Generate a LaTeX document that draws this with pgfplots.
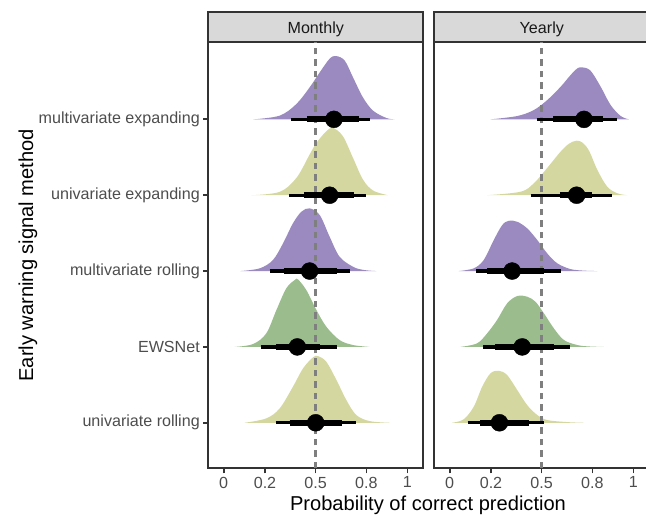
\documentclass[border=0pt]{standalone}
\usepackage{fontspec}
\setmainfont{Liberation Sans}
\usepackage{pgfplots}
\pgfplotsset{compat=1.18}
\definecolor{cpurple}{HTML}{9A8ABF}
\definecolor{cyellow}{HTML}{D4D8A0}
\definecolor{cgreen}{HTML}{9BBD8D}
\definecolor{gtwenty}{HTML}{333333}
\definecolor{gthirty}{HTML}{4D4D4D}
\definecolor{gfifty}{HTML}{7F7F7F}
\definecolor{stripfill}{HTML}{D9D9D9}
\pgfplotsset{
 panel/.style={
  scale only axis, width=215pt, height=426pt,
  xmin=-0.0835, xmax=1.0865, ymin=0.4, ymax=6.016,
  axis line style={draw=gtwenty, line width=1.8pt},
  tick align=outside, major tick length=5pt,
  tick style={draw=gtwenty, line width=1.8pt},
  xtick={0,0.225,0.5,0.777,1}, xticklabels={0,0.2,0.5,0.8,1},
  xtick pos=left, ytick pos=left,
  ticklabel style={font=\fontsize{16.1}{19}\selectfont, text=gthirty},
  /pgf/number format/assume math mode=true,
  clip=false,
 },
 dens/.style={draw=none, fill=#1, smooth, tension=0.55, forget plot},
 thin/.style={black, line width=3.4pt, forget plot},
 thick/.style={black, line width=6pt, forget plot},
 pt/.style={only marks, mark=*, mark size=8.5pt, black, forget plot},
 vref/.style={gfifty, line width=2.1pt, dash pattern=on 6.5pt off 5pt, forget plot},
}
\begin{document}
\begin{tikzpicture}
\useasboundingbox (0,0) rectangle (646pt,516pt);
% ---------------- Monthly ----------------
\begin{axis}[panel, at={(208.3pt,47.7pt)}, anchor=south west,
  ytick={1,2,3,4,5},
  yticklabels={univariate rolling, EWSNet, multivariate rolling, univariate expanding, multivariate expanding}]
\draw[gtwenty, line width=1.8pt, fill=stripfill] (rel axis cs:0,1) rectangle ([yshift=30.6pt]rel axis cs:1,1);
\node[anchor=base, font=\fontsize{16.1}{19}\selectfont, text=black!90] at ([yshift=9pt]rel axis cs:0.5,1) {Monthly};
\addplot[dens=cpurple] coordinates {(0.160,5) (0.305,5.049) (0.396,5.203) (0.468,5.422) (0.523,5.620) (0.577,5.800) (0.612,5.835) (0.659,5.774) (0.704,5.554) (0.758,5.290) (0.813,5.115) (0.886,5.018) (0.931,5)};
\addplot[dens=cyellow] coordinates {(0.151,4) (0.305,4.044) (0.396,4.228) (0.468,4.537) (0.505,4.690) (0.559,4.844) (0.595,4.887) (0.649,4.778) (0.704,4.492) (0.758,4.207) (0.813,4.062) (0.894,4)};
\addplot[dens=cpurple] coordinates {(0.091,3) (0.196,3.036) (0.268,3.145) (0.323,3.365) (0.377,3.629) (0.423,3.782) (0.468,3.827) (0.523,3.738) (0.577,3.452) (0.631,3.189) (0.704,3.057) (0.760,3.015) (0.831,3)};
\addplot[dens=cgreen] coordinates {(0.060,2) (0.160,2.038) (0.232,2.179) (0.287,2.486) (0.341,2.773) (0.387,2.882) (0.404,2.891) (0.450,2.750) (0.505,2.486) (0.559,2.266) (0.631,2.091) (0.704,2.025) (0.795,2)};
\addplot[dens=cyellow] coordinates {(0.114,1) (0.232,1.058) (0.305,1.190) (0.377,1.475) (0.432,1.717) (0.486,1.862) (0.513,1.879) (0.559,1.804) (0.614,1.563) (0.668,1.299) (0.722,1.102) (0.795,1.022) (0.904,1)};
\addplot[vref] coordinates {(0.5,0.4) (0.5,6.016)};
% intervals
\addplot[thin] coordinates {(0.365,5) (0.799,5)};
\addplot[thick] coordinates {(0.453,5) (0.737,5)};
\addplot[pt] coordinates {(0.600,5)};
\addplot[thin] coordinates {(0.355,4) (0.773,4)};
\addplot[thick] coordinates {(0.436,4) (0.708,4)};
\addplot[pt] coordinates {(0.577,4)};
\addplot[thin] coordinates {(0.250,3) (0.690,3)};
\addplot[thick] coordinates {(0.328,3) (0.617,3)};
\addplot[pt] coordinates {(0.468,3)};
\addplot[thin] coordinates {(0.201,2) (0.619,2)};
\addplot[thick] coordinates {(0.287,2) (0.523,2)};
\addplot[pt] coordinates {(0.401,2)};
\addplot[thin] coordinates {(0.283,1) (0.719,1)};
\addplot[thick] coordinates {(0.359,1) (0.646,1)};
\addplot[pt] coordinates {(0.501,1)};
\end{axis}
% ---------------- Yearly ----------------
\begin{axis}[panel, at={(434.3pt,47.7pt)}, anchor=south west, ytick=\empty]
\draw[gtwenty, line width=1.8pt, fill=stripfill] (rel axis cs:0,1) rectangle ([yshift=30.6pt]rel axis cs:1,1);
\node[anchor=base, font=\fontsize{16.1}{19}\selectfont, text=black!90] at ([yshift=9pt]rel axis cs:0.5,1) {Yearly};
\addplot[dens=cpurple] coordinates {(0.222,5) (0.368,5.044) (0.458,5.123) (0.531,5.254) (0.604,5.430) (0.658,5.584) (0.695,5.672) (0.722,5.686) (0.767,5.641) (0.822,5.430) (0.876,5.189) (0.931,5.044) (0.976,5)};
\addplot[dens=cyellow] coordinates {(0.204,4) (0.386,4.046) (0.458,4.157) (0.531,4.360) (0.604,4.575) (0.650,4.680) (0.691,4.719) (0.725,4.690) (0.760,4.580) (0.804,4.332) (0.858,4.112) (0.913,4.025) (0.967,4)};
\addplot[dens=cpurple] coordinates {(0.049,3) (0.131,3.036) (0.185,3.145) (0.240,3.409) (0.286,3.606) (0.322,3.663) (0.368,3.650) (0.422,3.563) (0.477,3.409) (0.531,3.233) (0.586,3.102) (0.658,3.026) (0.730,3.006) (0.804,3)};
\addplot[dens=cgreen] coordinates {(0.058,2) (0.149,2.047) (0.204,2.179) (0.258,2.355) (0.313,2.575) (0.368,2.671) (0.422,2.662) (0.467,2.596) (0.513,2.443) (0.567,2.245) (0.622,2.091) (0.695,2.025) (0.760,2.006) (0.840,2)};
\addplot[dens=cyellow] coordinates {(0.013,1) (0.076,1.045) (0.131,1.211) (0.177,1.475) (0.222,1.651) (0.267,1.686) (0.313,1.629) (0.368,1.431) (0.422,1.233) (0.477,1.102) (0.531,1.036) (0.640,1.009) (0.731,1)};
\addplot[vref] coordinates {(0.5,0.4) (0.5,6.016)};
\addplot[thin] coordinates {(0.473,5) (0.909,5)};
\addplot[thick] coordinates {(0.564,5) (0.837,5)};
\addplot[pt] coordinates {(0.731,5)};
\addplot[thin] coordinates {(0.440,4) (0.882,4)};
\addplot[thick] coordinates {(0.600,4) (0.775,4)};
\addplot[pt] coordinates {(0.691,4)};
\addplot[thin] coordinates {(0.144,3) (0.604,3)};
\addplot[thick] coordinates {(0.204,3) (0.516,3)};
\addplot[pt] coordinates {(0.340,3)};
\addplot[thin] coordinates {(0.182,2) (0.654,2)};
\addplot[thick] coordinates {(0.249,2) (0.567,2)};
\addplot[pt] coordinates {(0.395,2)};
\addplot[thin] coordinates {(0.098,1) (0.516,1)};
\addplot[thick] coordinates {(0.167,1) (0.431,1)};
\addplot[pt] coordinates {(0.271,1)};
\end{axis}
\node[anchor=base, font=\fontsize{20.1}{24}\selectfont] at (428pt,5.3pt) {Probability of correct prediction};
\node[anchor=base, rotate=90, font=\fontsize{20.1}{24}\selectfont] at (33pt,260.7pt) {Early warning signal method};
\end{tikzpicture}
\end{document}
